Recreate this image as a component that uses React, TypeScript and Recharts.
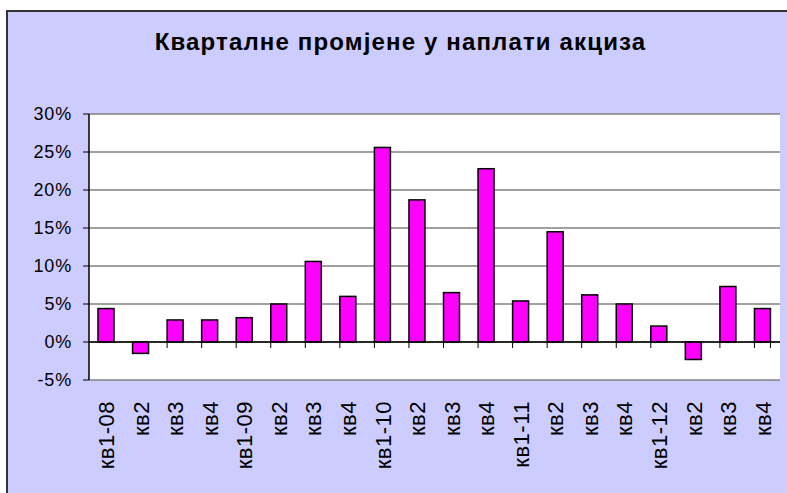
import React from "react";
import { BarChart, Bar, XAxis, YAxis, CartesianGrid, ReferenceLine } from "recharts";

// quarters
const categories = [
  "кв1-08", "кв2", "кв3", "кв4",
  "кв1-09", "кв2", "кв3", "кв4",
  "кв1-10", "кв2", "кв3", "кв4",
  "кв1-11", "кв2", "кв3", "кв4",
  "кв1-12", "кв2", "кв3", "кв4",
];

// change in %
const values = [
  4.4, -1.5, 2.9, 2.9,
  3.2, 5.0, 10.6, 6.0,
  25.6, 18.7, 6.5, 22.8,
  5.4, 14.5, 6.2, 5.0,
  2.1, -2.3, 7.3, 4.4,
];

const yTicks = [-5, 0, 5, 10, 15, 20, 25, 30];

const data = categories.map((name, i) => ({ name, v: values[i] }));

const FONT = '"Liberation Sans", Arial, sans-serif';

const BarWithTick = (props: any) => {
  const { x, y, width, height, background, index, payload } = props;
  const v = payload?.v ?? 0;
  const zeroY = v >= 0 ? y + height : height < 0 ? y + height : y;
  const top = Math.min(y, y + height);
  const h = Math.abs(height);
  const bx = background ? background.x : x;
  const bw = background ? background.width : width;
  return (
    <g>
      <rect x={x} y={top} width={width} height={h} fill="#FF00FF" stroke="#000" strokeWidth={1.5} />
      {index > 0 && <line x1={bx} x2={bx} y1={zeroY} y2={zeroY + 6} stroke="#000" strokeWidth={1} />}
      {index === data.length - 1 && (
        <line x1={bx + bw} x2={bx + bw} y1={zeroY} y2={zeroY + 6} stroke="#000" strokeWidth={1} />
      )}
    </g>
  );
};

const XTick = ({ x, y, payload }: any) => (
  <text
    transform={`translate(${x},${y}) rotate(-90)`}
    textAnchor="end"
    dy="0.36em"
    fontSize={22}
    letterSpacing={0.5}
    fontFamily={FONT}
    fill="#000"
  >
    {payload.value}
  </text>
);

export default function App() {
  return (
    <div style={{ position: "absolute", left: 0, top: 0, width: 787, height: 493, overflow: "hidden", background: "#fff", fontFamily: FONT }}>
      <div
        style={{
          position: "absolute", left: 6, top: 10, width: 800, height: 500,
          background: "#CCCCFF", borderTop: "2px solid #333", borderLeft: "2px solid #333",
        }}
      />
      <div
        style={{
          position: "absolute", left: 0, top: 30, width: 801, textAlign: "center",
          fontSize: 24, lineHeight: "24px", fontWeight: "bold", letterSpacing: 1.15, color: "#000",
        }}
      >
        Кварталне промјене у наплати акциза
      </div>
      <BarChart
        width={787}
        height={493}
        data={data}
        margin={{ top: 114, right: 7, left: 0, bottom: 0 }}
        barSize={16}
        style={{ position: "absolute", left: 0, top: 0 }}
      >
        <CartesianGrid vertical={false} stroke="#808080" strokeWidth={1.5} fill="#fff" />
        <XAxis
          dataKey="name"
          interval={0}
          height={113}
          axisLine={false}
          tickLine={false}
          tickMargin={15}
          tick={<XTick />}
        />
        <YAxis
          width={89}
          domain={[-5, 30]}
          ticks={yTicks}
          interval={0}
          tickFormatter={(v: number) => `${v}%`}
          tick={{ fontSize: 18, fill: "#000", fontFamily: FONT, letterSpacing: 0.8 }}
          tickLine={{ stroke: "#000" }}
          axisLine={{ stroke: "#000", strokeWidth: 1.5 }}
          tickMargin={11}
        />
        <YAxis
          yAxisId="r"
          orientation="right"
          width={0}
          domain={[-5, 30]}
          tick={false}
          tickLine={false}
          axisLine={{ stroke: "#808080", strokeWidth: 2 }}
        />
        <ReferenceLine y={0} stroke="#000" strokeWidth={1.5} />
        <Bar dataKey="v" isAnimationActive={false} shape={<BarWithTick />} />
      </BarChart>
    </div>
  );
}
